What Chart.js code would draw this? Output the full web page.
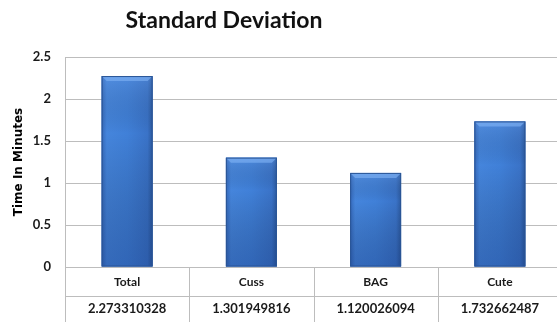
<!DOCTYPE html>
<html>
<head>
<meta charset="utf-8">
<script src="https://cdn.jsdelivr.net/npm/chart.js@4/dist/chart.umd.min.js"></script>
<style>
  html, body { margin: 0; padding: 0; background: #fff; overflow: hidden; }
  #wrap { width: 557px; height: 322px; overflow: hidden; position: relative; }
  #wrap canvas { display: block; }
</style>
</head>
<body>
<div id="wrap"><canvas id="c" width="562" height="322"></canvas></div>
<script>
// Standard deviation of task time per group
const chartTitle = 'Standard Deviation';
const axisTitle = 'Time In Minutes';
const categories = ['Total', 'Cuss', 'BAG', 'Cute'];
const stdDev = [2.273310328, 1.301949816, 1.120026094, 1.732662487];
const valueLabels = ['2.273310328', '1.301949816', '1.120026094', '1.732662487'];
const yTicks = [0, 0.5, 1, 1.5, 2, 2.5];

const gridColor = '#bdbdbd';
const textColor = '#1a1a1a';
const labelFont = 'Lato, "Open Sans", sans-serif';

// chart heading
const headingPlugin = {
  id: 'heading',
  afterDraw(chart) {
    const c = chart.ctx;
    c.save();
    c.font = 'bold 23px ' + labelFont;
    c.fillStyle = '#111';
    c.textAlign = 'center';
    c.textBaseline = 'middle';
    c.fillText(chartTitle, 224, 21);
    c.restore();
  }
};

// rounded shading and a light bevel along the top of each column
const shadePlugin = {
  id: 'shade',
  afterDatasetsDraw(chart) {
    const c = chart.ctx;
    const meta = chart.getDatasetMeta(0);
    c.save();
    meta.data.forEach(bar => {
      const l = bar.x - bar.width / 2, r = bar.x + bar.width / 2, t = bar.y, b = bar.base;
      const g = c.createLinearGradient(l, 0, r, 0);
      g.addColorStop(0, '#3569bb');
      g.addColorStop(0.1, '#4585dc');
      g.addColorStop(0.5, '#4080d8');
      g.addColorStop(0.9, '#3a73c8');
      g.addColorStop(1, '#2c5aa0');
      c.fillStyle = g;
      c.fillRect(l, t, r - l, b - t);
      const v = c.createLinearGradient(0, t, 0, b);
      v.addColorStop(0, 'rgba(120,170,240,0.25)');
      v.addColorStop(0.3, 'rgba(0,0,0,0)');
      v.addColorStop(1, 'rgba(10,35,100,0.28)');
      c.fillStyle = v;
      c.fillRect(l, t, r - l, b - t);
      const d = 5;
      c.fillStyle = 'rgba(130,180,245,0.6)';
      c.beginPath();
      c.moveTo(l, t); c.lineTo(r, t); c.lineTo(r - d, t + d); c.lineTo(l + d, t + d);
      c.closePath(); c.fill();
      c.strokeStyle = '#2a5596';
      c.lineWidth = 1;
      c.strokeRect(l + 0.5, t + 0.5, r - l - 1, b - t - 1);
    });
    c.restore();
  }
};

// data table under the plot: category row (axis ticks) and value row
const tablePlugin = {
  id: 'dataTable',
  afterDraw(chart) {
    const c = chart.ctx;
    const xs = chart.scales.x;
    const area = chart.chartArea;
    const top = area.bottom;
    const rowH = 29;
    const bottom = chart.height;
    const colW = xs.width / categories.length;
    c.save();
    c.strokeStyle = gridColor;
    c.lineWidth = 1;
    c.beginPath();
    // left border continues down from the value axis
    c.moveTo(Math.round(area.left) + 0.5, top);
    c.lineTo(Math.round(area.left) + 0.5, bottom);
    for (let i = 1; i < categories.length; i++) {
      const x = Math.round(area.left + colW * i) + 0.5;
      c.moveTo(x, top); c.lineTo(x, bottom);
    }
    c.moveTo(area.left, top + rowH + 0.5);
    c.lineTo(area.right, top + rowH + 0.5);
    c.stroke();
    c.font = 'bold 13px ' + labelFont;
    c.fillStyle = textColor;
    c.textAlign = 'center';
    c.textBaseline = 'middle';
    valueLabels.forEach((v, i) => {
      c.fillText(v, xs.getPixelForValue(i), top + rowH + 13);
    });
    c.restore();
  }
};

new Chart(document.getElementById('c'), {
  type: 'bar',
  data: {
    labels: categories,
    datasets: [{
      label: chartTitle,
      data: stdDev,
      backgroundColor: '#3a72c8',
      borderWidth: 0,
      categoryPercentage: 1,
      barPercentage: 0.41
    }]
  },
  options: {
    responsive: false,
    animation: false,
    layout: { padding: { top: 57, right: 0, bottom: 0, left: 0 } },
    plugins: {
      legend: { display: false },
      tooltip: { enabled: false },
      title: { display: false }
    },
    scales: {
      x: {
        offset: true,
        grid: { display: false, drawTicks: false },
        border: { display: true, color: gridColor },
        ticks: {
          color: textColor,
          padding: 8,
          font: { family: labelFont, size: 12, weight: 'bold' }
        },
        afterFit(scale) { scale.height = 55; }
      },
      y: {
        min: 0,
        max: 2.5,
        afterBuildTicks(scale) { scale.ticks = yTicks.map(v => ({ value: v })); },
        grid: { color: gridColor, drawTicks: false },
        border: { display: true, color: gridColor },
        ticks: {
          color: textColor,
          padding: 14,
          font: { family: labelFont, size: 13, weight: 'bold' },
          callback: v => String(v)
        },
        title: {
          display: true,
          text: axisTitle,
          color: '#000',
          padding: { top: 12, bottom: 0 },
          font: { family: '"DejaVu Sans", sans-serif', size: 12, weight: 'bold' }
        },
        afterFit(scale) { scale.width = 65; }
      }
    }
  },
  plugins: [headingPlugin, shadePlugin, tablePlugin]
});
</script>
</body>
</html>
